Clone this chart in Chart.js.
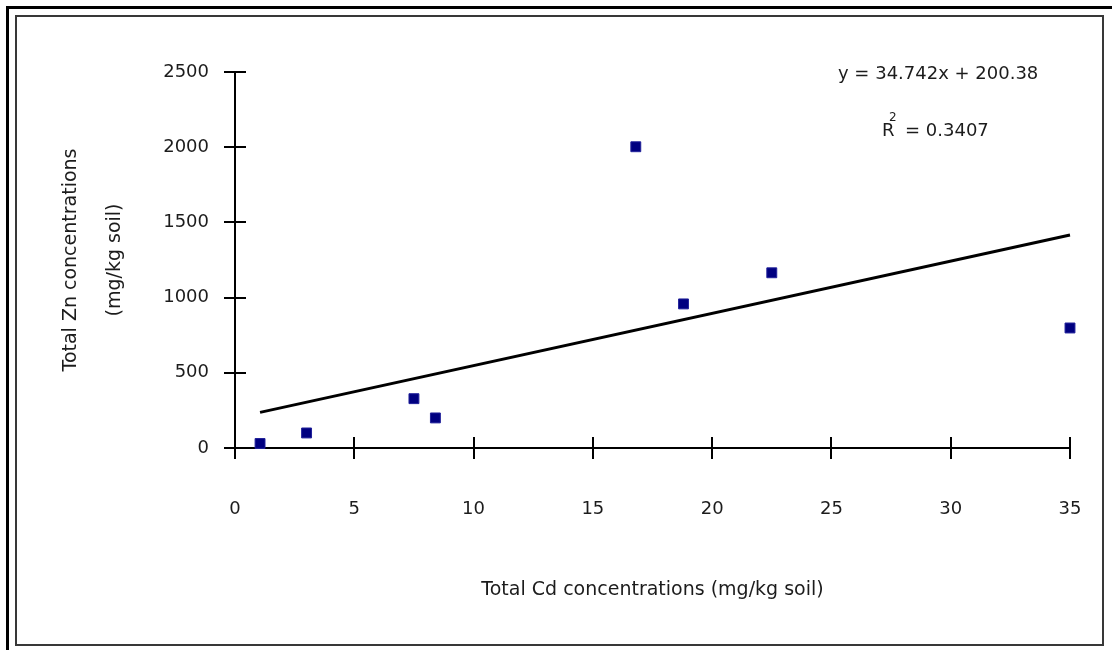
<!DOCTYPE html>
<html>
<head>
  <meta name="viewport" content="width=device-width, initial-scale=1.0">
  <title>Zn vs Cd</title>
  <script src="https://cdn.jsdelivr.net/npm/chart.js"></script>
  <style>
    body {
      margin: 0;
      background: #fff;
      overflow: hidden;
    }
    #outerFrame {
      position: absolute;
      left: 6px;
      top: 6px;
      width: 1200px;
      height: 700px;
      border: 3px solid #000;
    }
    #innerFrame {
      position: absolute;
      left: 15px;
      top: 15px;
      width: 1089px;
      height: 631px;
      box-sizing: border-box;
      border: 2px solid #383838;
    }
    #chartCanvas {
      position: absolute;
      left: 0;
      top: 0;
    }
  </style>
</head>
<body>
  <div id="outerFrame"></div>
  <div id="innerFrame"></div>
  <canvas id="chartCanvas" width="1112" height="650"></canvas>

  <script>
    // values
    const cdValues = [1.05, 3.0, 7.5, 8.4, 16.8, 18.8, 22.5, 35.0];
    const znValues = [30, 100, 328, 200, 2003, 958, 1165, 798];
    const trendX = [1.05, 35.0];
    const trendY = [237, 1416];
    const equationText = 'y = 34.742x + 200.38';
    const r2Text = '= 0.3407';

    const xTitle = 'Total Cd concentrations (mg/kg soil)';
    const yTitle = ['Total Zn concentrations', '(mg/kg soil)'];

    const fontFamily = '"DejaVu Sans", Verdana, sans-serif';
    const textColor = '#1c1c1c';

    // ticks that cross the axis lines, like the old Excel style
    const crossTicks = {
      id: 'crossTicks',
      beforeDatasetsDraw(chart) {
        const { ctx, scales: { x, y } } = chart;
        const x0 = x.getPixelForValue(0);
        const y0 = y.getPixelForValue(0);
        ctx.save();
        ctx.strokeStyle = '#000';
        ctx.lineWidth = 2;
        ctx.beginPath();
        x.ticks.forEach(t => {
          const px = Math.round(x.getPixelForValue(t.value));
          ctx.moveTo(px, y0 - 11);
          ctx.lineTo(px, y0 + 11);
        });
        y.ticks.forEach(t => {
          const py = Math.round(y.getPixelForValue(t.value));
          ctx.moveTo(x0 - 11, py);
          ctx.lineTo(x0 + 11, py);
        });
        ctx.stroke();
        ctx.restore();
      }
    };

    const equationLabel = {
      id: 'equationLabel',
      afterDraw(chart) {
        const ctx = chart.ctx;
        ctx.save();
        ctx.fillStyle = textColor;
        ctx.textBaseline = 'middle';
        ctx.textAlign = 'left';
        ctx.font = '18px ' + fontFamily;
        ctx.fillText(equationText, 838, 74);
        ctx.fillText('R', 882, 131);
        ctx.fillText(r2Text, 905, 131);
        ctx.font = '12px ' + fontFamily;
        ctx.fillText('2', 889, 118);
        ctx.restore();
      }
    };

    const ctx = document.getElementById('chartCanvas').getContext('2d');
    new Chart(ctx, {
      type: 'scatter',
      data: {
        datasets: [
          {
            label: 'Zn',
            data: cdValues.map((v, i) => ({ x: v, y: znValues[i] })),
            pointStyle: 'rect',
            pointRadius: 7,
            backgroundColor: '#000080',
            borderColor: '#20209a',
            borderWidth: 1,
            clip: false,
            order: 1
          },
          {
            label: 'Trend',
            type: 'line',
            data: trendX.map((v, i) => ({ x: v, y: trendY[i] })),
            borderColor: '#000',
            borderWidth: 3,
            pointRadius: 0,
            fill: false,
            clip: false,
            order: 2
          }
        ]
      },
      options: {
        responsive: false,
        animation: false,
        devicePixelRatio: 1,
        layout: {
          padding: { left: 0, top: 72, right: 42, bottom: 0 }
        },
        plugins: {
          legend: { display: false },
          tooltip: { enabled: false }
        },
        scales: {
          x: {
            type: 'linear',
            min: 0,
            max: 35,
            grid: { display: false, drawTicks: false },
            border: { display: true, color: '#000', width: 2 },
            ticks: {
              stepSize: 5,
              padding: 51,
              color: textColor,
              font: { family: fontFamily, size: 18 }
            },
            title: {
              display: true,
              text: xTitle,
              color: textColor,
              font: { family: fontFamily, size: 19 },
              padding: { top: 0, bottom: 49 }
            },
            afterFit: scale => {
              scale.height = 202;
              scale.paddingLeft = 0;
              scale.paddingRight = 0;
            }
          },
          y: {
            min: 0,
            max: 2500,
            grid: { display: false, drawTicks: false },
            border: { display: true, color: '#000', width: 2 },
            ticks: {
              stepSize: 500,
              padding: 26,
              color: textColor,
              font: { family: fontFamily, size: 18 },
              callback: v => String(v)
            },
            title: {
              display: true,
              text: yTitle,
              color: textColor,
              font: { family: fontFamily, size: 19, lineHeight: 2.32 },
              padding: { top: 49, bottom: 0 }
            },
            afterFit: scale => { scale.width = 235; }
          }
        }
      },
      plugins: [crossTicks, equationLabel]
    });
  </script>
</body>
</html>
